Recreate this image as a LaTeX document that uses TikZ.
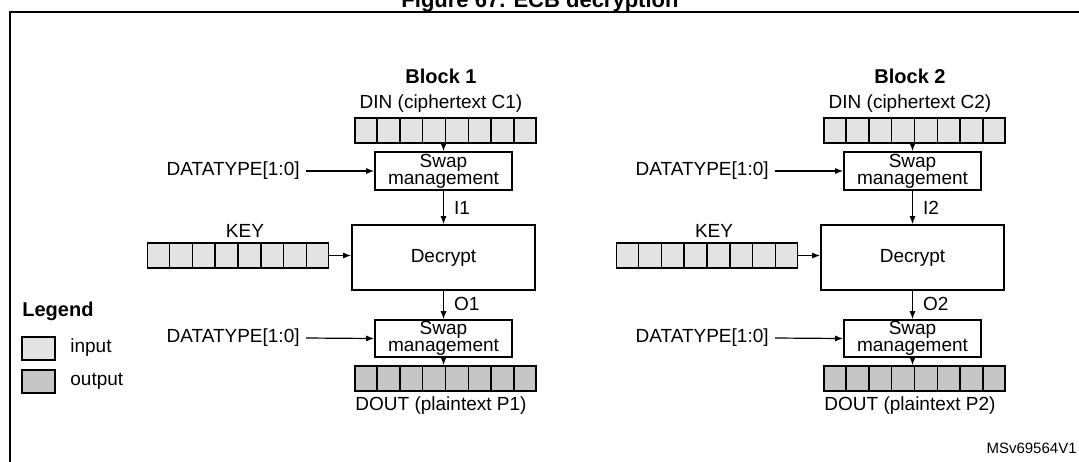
\documentclass[tikz,border=0pt]{standalone}
\usepackage{fontspec}
\setmainfont{Liberation Sans}
\usetikzlibrary{arrows.meta,calc}

\tikzset{
  txt/.style={font=\fontsize{9.5}{11}\selectfont, inner sep=0pt},
  box/.style={draw, thick, fill=white, inner sep=0pt, align=center, font=\fontsize{9.5}{8.5}\selectfont},
  reg/.style={draw, thick, inner sep=0pt, minimum width=90.5pt, minimum height=12.5pt},
  arr/.style={-{Latex[length=4pt,width=3pt]}, semithick},
}

\begin{document}
\begin{tikzpicture}[x=0.5pt,y=-0.5pt]
\useasboundingbox (0,0) rectangle (1079,461);
\clip (0,0) rectangle (1079,461);
\draw[thick] (10,12) rectangle (1090,480);
\node[txt, font=\fontsize{11}{13}\selectfont\bfseries] (title) at (540,2) {Figure 67. ECB decryption};

\foreach \b/\dx in {1/0,2/469}{
	\node[txt, font=\fontsize{10}{12}\selectfont\bfseries] (blk\b) at (441+\dx,76) {Block \b};
	\node[txt] (dintxt\b) at (441+\dx,104) {DIN (ciphertext C\b)};
	\node[reg, fill=gray!22] (din\b) at (445.5+\dx,130.5) {};
	\node[box, minimum width=68.5pt, minimum height=19pt] (swapa\b) at (443.5+\dx,171) {Swap\\management};
	\node[txt, anchor=east] (dta\b) at (300+\dx,171) {DATATYPE[1:0]};
	\node[box, minimum width=91.5pt, minimum height=32.5pt] (dec\b) at (443.5+\dx,257.5) {Decrypt};
	\node[txt] (keytxt\b) at (245+\dx,231) {KEY};
	\node[reg, fill=gray!22] (key\b) at (238+\dx,255.5) {};
	\node[box, minimum width=68.5pt, minimum height=18.5pt] (swapb\b) at (443.5+\dx,338.5) {Swap\\management};
	\node[txt, anchor=east] (dtb\b) at (300+\dx,338) {DATATYPE[1:0]};
	\node[reg, fill=gray!45] (dout\b) at (445.5+\dx,378.5) {};
	\node[txt] (douttxt\b) at (441+\dx,406) {DOUT (plaintext P\b)};
	\foreach \r in {din,key,dout}{
		\foreach \i in {1,...,7}{
			\draw[thick] ($(\r\b.north west)!\i/8!(\r\b.north east)$) -- ($(\r\b.south west)!\i/8!(\r\b.south east)$);
		}
	}
	\draw[arr] (din\b.south -| swapa\b.north) -- (swapa\b.north);
	\coordinate (da\b) at ($(dta\b.east)+(6,0)$);
	\draw[arr] (da\b) -- (swapa\b.west);
	\draw[arr] (swapa\b.south) -- (swapa\b.south |- dec\b.north) node[txt, pos=0.5, right=5pt] (i\b) {I\b};
	\draw[arr] (key\b.east) -- (key\b.east -| dec\b.west);
	\draw[arr] (dec\b.south -| swapb\b.north) -- (swapb\b.north) node[txt, pos=0.45, right=5pt] (o\b) {O\b};
	\coordinate (db\b) at ($(dtb\b.east)+(6,0)$);
	\draw[arr] (db\b) -- (swapb\b.west);
	\draw[arr] (swapb\b.south) -- (swapb\b.south |- dout\b.north);
}

% legend
\node[txt, font=\fontsize{10}{12}\selectfont\bfseries, anchor=west] (leg) at (22,311) {Legend};
\node[draw, thick, fill=gray!22, minimum width=16.5pt, minimum height=11.5pt, inner sep=0pt] (legin) at (38.5,348.5) {};
\node[txt, anchor=west] (legintxt) at (70,348) {input};
\node[draw, thick, fill=gray!45, minimum width=16.5pt, minimum height=11.5pt, inner sep=0pt] (legout) at (38.5,381.5) {};
\node[txt, anchor=west] (legouttxt) at (70,381) {output};
\node[txt, font=\fontsize{7.5}{8}\selectfont, anchor=east] (ref) at (1077,448) {MSv69564V1};
\end{tikzpicture}
\end{document}
